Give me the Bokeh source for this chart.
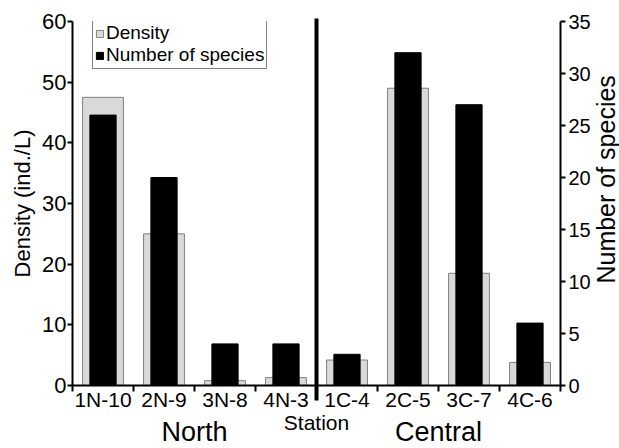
import math
from bokeh.plotting import figure
from bokeh.models import (Range1d, LinearAxis, FixedTicker, Legend, LegendItem,
                          ColumnDataSource)
from bokeh.embed import file_html
from bokeh.resources import INLINE

stations = ["1N-10", "2N-9", "3N-8", "4N-3", "1C-4", "2C-5", "3C-7", "4C-6"]
density = [47.5, 25.0, 0.8, 1.3, 4.2, 49.0, 18.5, 3.8]
species = [26, 20, 4, 4, 3, 32, 27, 6]
regions = ["North", "Central"]
region_centers = [2, 6]
divider = [4]
density_ticks = [0, 10, 20, 30, 40, 50, 60]
species_ticks = [0, 5, 10, 15, 20, 25, 30, 35]
species_title = "Number of species"
species_title_at = [9.8]   # where the rotated title starts on the species scale

FONT = "Liberation Sans"
W, H = 619, 448
B_LEFT, B_RIGHT, B_TOP, B_BOTTOM = 72, 59, 21, 63
FRAME_H = H - B_TOP - B_BOTTOM

xc = [i + 0.5 for i in range(len(stations))]
src = ColumnDataSource(dict(x=xc, density=density, species=species))

p = figure(width=W, height=H, x_range=Range1d(0, len(stations)),
           y_range=Range1d(0, 60), output_backend="svg", toolbar_location=None,
           min_border_left=B_LEFT, min_border_right=B_RIGHT,
           min_border_top=B_TOP, min_border_bottom=B_BOTTOM)
p.extra_y_ranges = {"sp": Range1d(0, 35)}
p.outline_line_color = None
p.grid.visible = False

r1 = p.vbar(x="x", top="density", width=0.67, source=src,
            fill_color="#d9d9d9", line_color="#808080", line_width=1)
r2 = p.vbar(x="x", top="species", width=0.43, source=src, y_range_name="sp",
            fill_color="black", line_color="black", line_width=1)

# left axis
yl = p.yaxis[0]
yl.ticker = FixedTicker(ticks=density_ticks)
yl.axis_label = "Density (ind./L)"
yl.major_label_text_font_size = "22px"
yl.axis_label_text_font_size = "22px"
yl.axis_label_standoff = 4
yl.major_label_standoff = 1

# right axis (species)
ax_r = LinearAxis(y_range_name="sp", ticker=FixedTicker(ticks=species_ticks))
ax_r.major_label_text_font_size = "20px"
ax_r.major_label_standoff = 3
p.add_layout(ax_r, "right")

for ax in (yl, ax_r):
    ax.major_tick_in = 0
    ax.major_tick_out = 5
    ax.minor_tick_line_color = None

# right title, read bottom-to-top
ax_t = LinearAxis(y_range_name="sp", ticker=FixedTicker(ticks=species_title_at),
                  major_label_overrides={v: species_title for v in species_title_at})
ax_t.axis_line_color = None
ax_t.major_tick_line_color = None
ax_t.minor_tick_line_color = None
ax_t.major_tick_out = 0
ax_t.major_tick_in = 0
ax_t.major_label_orientation = math.pi / 2
ax_t.major_label_standoff = 13
ax_t.major_label_text_font_size = "25px"
ax_t.major_label_text_font = FONT
ax_t.major_label_text_color = "black"
ax_t.axis_label = " "
ax_t.axis_label_text_font_size = "1px"
ax_t.axis_label_standoff = -40
p.add_layout(ax_t, "right")

# bottom axis with station names, tick marks between stations
xa = p.xaxis[0]
xa.ticker = FixedTicker(ticks=xc, minor_ticks=list(range(len(stations) + 1)))
xa.major_label_overrides = {c: s for c, s in zip(xc, stations)}
xa.major_tick_in = 0
xa.major_tick_out = 0
xa.minor_tick_in = 0
xa.minor_tick_out = 6
xa.minor_tick_line_width = 2
xa.minor_tick_line_color = "black"
xa.major_label_standoff = -4
xa.major_label_text_font_size = "21px"
xa.axis_label = "Station"
xa.axis_label_text_font_size = "21px"
xa.axis_label_standoff = -3

# region names (second row below)
xr = LinearAxis(ticker=FixedTicker(ticks=region_centers),
                major_label_overrides={c: r for c, r in zip(region_centers, regions)})
xr.axis_line_color = None
xr.major_tick_line_color = None
xr.minor_tick_line_color = None
xr.major_tick_out = 0
xr.major_tick_in = 0
xr.major_label_standoff = -20
xr.major_label_text_font_size = "27px"
xr.major_label_text_font = FONT
xr.major_label_text_color = "black"
xr.axis_label = " "
xr.axis_label_text_font_size = "1px"
xr.axis_label_standoff = -40
p.add_layout(xr, "below")

# thick divider between North and Central (tick of a top axis)
xd = LinearAxis(ticker=FixedTicker(ticks=divider),
                major_label_overrides={d: "" for d in divider})
xd.axis_line_color = None
xd.minor_tick_line_color = None
xd.major_tick_line_color = "black"
xd.major_tick_line_width = 4
xd.major_tick_out = 3
xd.major_tick_in = FRAME_H + 15
xd.major_label_text_font_size = "0px"
xd.major_label_standoff = 0
p.add_layout(xd, "above")

for ax in (xa, yl, ax_r):
    ax.axis_line_width = 2
    ax.axis_line_color = "black"
    ax.major_tick_line_width = 2
    ax.major_tick_line_color = "black"
    ax.major_label_text_font = FONT
    ax.major_label_text_color = "black"
    ax.axis_label_text_font = FONT
    ax.axis_label_text_font_style = "normal"
    ax.axis_label_text_color = "black"

legend = Legend(items=[LegendItem(label="Density", renderers=[r1]),
                       LegendItem(label="Number of species", renderers=[r2])],
                location=(20, FRAME_H - 48))
legend.border_line_color = "black"
legend.border_line_width = 1
legend.background_fill_color = "white"
legend.background_fill_alpha = 1
legend.padding = 2
legend.spacing = 0
legend.margin = 0
legend.glyph_width = 9
legend.glyph_height = 9
legend.label_standoff = 2
legend.label_text_font = FONT
legend.label_text_font_size = "19px"
legend.label_height = 22
legend.label_text_color = "black"
p.add_layout(legend)

open("out.html", "w").write(file_html(p, INLINE))
